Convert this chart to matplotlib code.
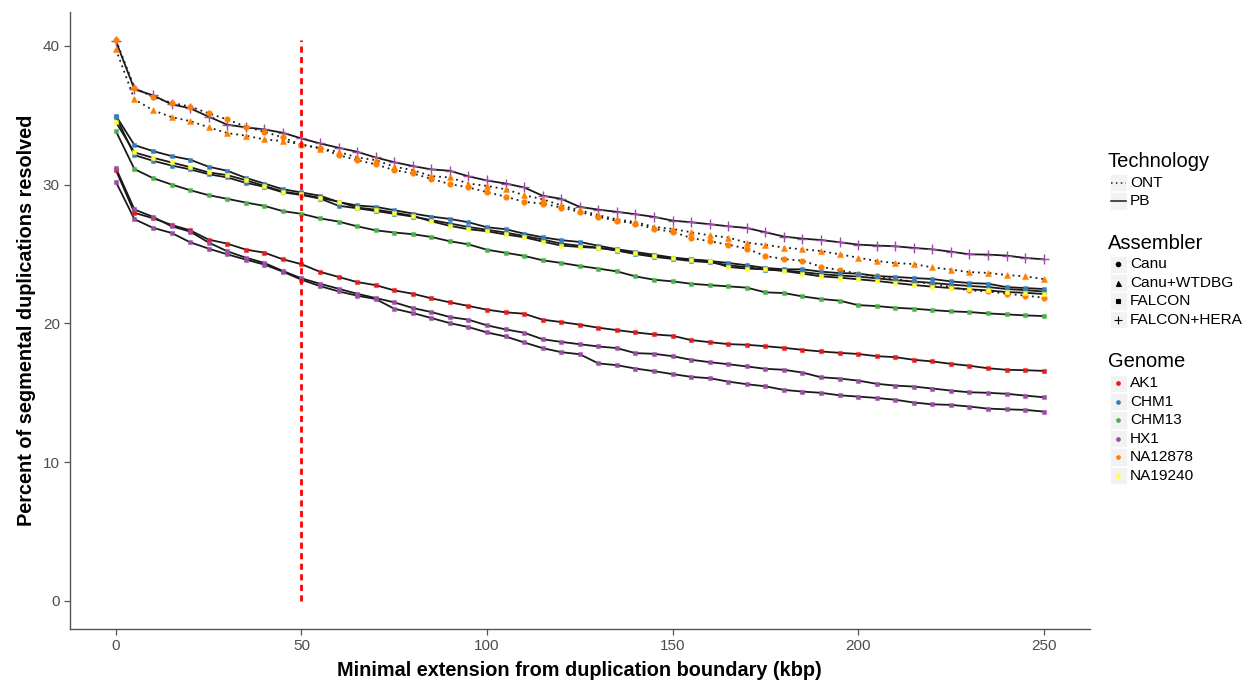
import matplotlib
matplotlib.use("Agg")
import matplotlib.pyplot as plt
from matplotlib.lines import Line2D
from matplotlib.patches import Rectangle
import numpy as np

plt.rcParams['font.family'] = ['Liberation Sans', 'DejaVu Sans']

x_kbp = list(range(0, 251, 5))

hx1_falcon_hera_pb = [40.35, 36.87, 36.44, 35.79, 35.5, 34.9, 34.32, 34.13, 33.98, 33.74,
                      33.33, 32.97, 32.66, 32.37, 31.96, 31.62, 31.34, 31.10, 31.0, 30.6,
                      30.3, 30.08, 29.8, 29.2, 28.98, 28.4, 28.2, 28.04, 27.87, 27.68,
                      27.41, 27.29, 27.15, 27.0, 26.88, 26.57, 26.26, 26.11, 26.01, 25.85,
                      25.68, 25.61, 25.56, 25.44, 25.34, 25.17, 24.98, 24.96, 24.89, 24.72, 24.62]
na12878_wtdbg_ont = [39.76, 36.15, 35.36, 34.87, 34.58, 34.13, 33.72, 33.53, 33.26, 33.14,
                     32.9, 32.6, 32.37, 31.96, 31.77, 31.29, 31.05, 30.61, 30.52, 30.08,
                     29.91, 29.67, 29.24, 28.95, 28.5, 28.16, 27.8, 27.5, 27.3, 26.96,
                     26.81, 26.57, 26.35, 26.19, 25.82, 25.66, 25.47, 25.34, 25.22, 24.98,
                     24.74, 24.5, 24.35, 24.28, 24.04, 23.88, 23.7, 23.64, 23.49, 23.39, 23.2]
na12878_canu_ont = [40.43, 37.0, 36.3, 35.9, 35.63, 35.14, 34.7, 34.18, 33.81, 33.4,
                    32.87, 32.66, 32.13, 31.77, 31.46, 31.05, 30.81, 30.42, 30.04, 29.8,
                    29.46, 29.14, 28.76, 28.64, 28.35, 28.04, 27.68, 27.39, 27.2, 26.81,
                    26.6, 26.16, 25.92, 25.68, 25.39, 24.86, 24.64, 24.52, 24.09, 23.83,
                    23.59, 23.39, 23.2, 23.0, 22.86, 22.62, 22.38, 22.31, 22.14, 22.0, 21.86]
chm1_falcon_a = [34.97, 32.85, 32.42, 32.06, 31.8, 31.29, 31.0, 30.49, 30.08, 29.67,
                 29.44, 29.2, 28.75, 28.5, 28.4, 28.16, 27.92, 27.7, 27.53, 27.29,
                 26.93, 26.79, 26.47, 26.21, 26.0, 25.87, 25.6, 25.35, 25.15, 24.95,
                 24.75, 24.62, 24.5, 24.36, 24.19, 24.0, 23.9, 23.9, 23.73, 23.63,
                 23.59, 23.42, 23.35, 23.27, 23.2, 23.03, 22.91, 22.86, 22.62, 22.55, 22.48]
chm1_falcon_b = [34.9, 32.13, 31.72, 31.38, 31.1, 30.75, 30.52, 30.13, 29.85, 29.45,
                 29.25, 29.0, 28.48, 28.3, 28.1, 27.9, 27.7, 27.45, 27.2, 26.95,
                 26.75, 26.55, 26.3, 26.05, 25.75, 25.6, 25.46, 25.25, 25.0, 24.8,
                 24.65, 24.5, 24.4, 24.2, 24.05, 23.88, 23.82, 23.7, 23.55, 23.45,
                 23.38, 23.25, 23.12, 23.02, 22.92, 22.8, 22.7, 22.62, 22.48, 22.4, 22.3]
na19240_falcon = [34.51, 32.32, 31.94, 31.6, 31.26, 30.88, 30.69, 30.32, 29.91, 29.5,
                  29.3, 29.05, 28.77, 28.35, 28.2, 27.99, 27.75, 27.36, 27.03, 26.79,
                  26.64, 26.41, 26.21, 25.9, 25.61, 25.51, 25.44, 25.27, 25.05, 24.84,
                  24.69, 24.6, 24.5, 24.07, 23.95, 23.9, 23.78, 23.59, 23.39, 23.3,
                  23.18, 23.06, 22.91, 22.77, 22.65, 22.55, 22.46, 22.38, 22.26, 22.21, 22.12]
chm13_falcon = [33.86, 31.12, 30.47, 30.01, 29.6, 29.24, 28.98, 28.71, 28.47, 28.09,
                27.9, 27.57, 27.34, 27.0, 26.71, 26.55, 26.43, 26.23, 25.92, 25.7,
                25.31, 25.09, 24.87, 24.55, 24.36, 24.14, 23.95, 23.75, 23.39, 23.15,
                23.03, 22.86, 22.76, 22.67, 22.58, 22.24, 22.19, 21.95, 21.76, 21.64,
                21.32, 21.25, 21.13, 21.06, 20.96, 20.87, 20.82, 20.72, 20.65, 20.58, 20.53]
ak1_falcon = [31.05, 27.97, 27.58, 27.1, 26.71, 26.04, 25.75, 25.32, 25.1, 24.62,
              24.27, 23.72, 23.35, 22.98, 22.76, 22.38, 22.14, 21.81, 21.52, 21.26,
              20.99, 20.8, 20.7, 20.27, 20.1, 19.91, 19.69, 19.52, 19.35, 19.21,
              19.11, 18.8, 18.65, 18.51, 18.46, 18.36, 18.24, 18.1, 17.98, 17.88,
              17.8, 17.64, 17.57, 17.38, 17.26, 17.09, 16.95, 16.77, 16.66, 16.63, 16.58]
hx1_falcon_a = [31.2, 28.21, 27.68, 27.0, 26.62, 25.83, 25.2, 24.74, 24.36, 23.78,
                23.25, 22.86, 22.5, 22.14, 21.83, 21.52, 21.11, 20.82, 20.46, 20.27,
                19.86, 19.57, 19.33, 18.86, 18.67, 18.5, 18.34, 18.22, 17.86, 17.81,
                17.64, 17.38, 17.21, 17.06, 16.9, 16.73, 16.66, 16.46, 16.12, 16.03,
                15.88, 15.65, 15.52, 15.45, 15.31, 15.16, 15.04, 15.0, 14.93, 14.8, 14.68]
hx1_falcon_b = [30.2, 27.51, 26.89, 26.52, 25.85, 25.39, 24.98, 24.6, 24.24, 23.73,
                23.15, 22.69, 22.31, 22.0, 21.76, 21.06, 20.75, 20.39, 20.02, 19.74,
                19.35, 19.06, 18.63, 18.22, 17.93, 17.78, 17.12, 16.99, 16.75, 16.56,
                16.35, 16.15, 16.05, 15.81, 15.62, 15.47, 15.21, 15.09, 15.0, 14.82,
                14.73, 14.63, 14.5, 14.3, 14.17, 14.13, 14.01, 13.86, 13.81, 13.77, 13.65]

genomes = ['AK1', 'CHM1', 'CHM13', 'HX1', 'NA12878', 'NA19240']
genome_colors = ['#E41A1C', '#377EB8', '#4DAF4A', '#984EA3', '#FF7F00', '#FFFF33']
assemblers = ['Canu', 'Canu+WTDBG', 'FALCON', 'FALCON+HERA']
assembler_markers = ['o', '^', 's', '+']
technologies = ['ONT', 'PB']
tech_styles = [(0, (1, 2.2)), '-']
cutoff_kbp = 50

# (values, genome, assembler, technology)
series = [
    (hx1_falcon_hera_pb, 'HX1', 'FALCON+HERA', 'PB'),
    (na12878_wtdbg_ont, 'NA12878', 'Canu+WTDBG', 'ONT'),
    (na12878_canu_ont, 'NA12878', 'Canu', 'ONT'),
    (chm1_falcon_a, 'CHM1', 'FALCON', 'PB'),
    (chm1_falcon_b, 'CHM1', 'FALCON', 'PB'),
    (na19240_falcon, 'NA19240', 'FALCON', 'PB'),
    (chm13_falcon, 'CHM13', 'FALCON', 'PB'),
    (ak1_falcon, 'AK1', 'FALCON', 'PB'),
    (hx1_falcon_a, 'HX1', 'FALCON', 'PB'),
    (hx1_falcon_b, 'HX1', 'FALCON', 'PB'),
]

W, H = 1246, 681
fig = plt.figure(figsize=(W / 100, H / 100), dpi=100)
ax = fig.add_axes([69.5 / W, 1 - 629 / H, (1090 - 69.5) / W, (629 - 12.3) / H])

msize = {'o': 4.0, '^': 4.4, 's': 3.5, '+': 6.5}
for vals, g, a, t in series:
    ls = tech_styles[technologies.index(t)]
    ax.plot(x_kbp, vals, color='#1a1a1a', lw=1.3, ls=ls, zorder=2)
for vals, g, a, t in series:
    col = genome_colors[genomes.index(g)]
    mk = assembler_markers[assemblers.index(a)]
    if mk == '+':
        ax.plot(x_kbp, vals, ls='none', marker=mk, ms=msize[mk], mew=1.0,
                color=col, zorder=3)
    else:
        ax.plot(x_kbp, vals, ls='none', marker=mk, ms=msize[mk], mew=0.9,
                mfc=col, mec=matplotlib.colors.to_rgba(col, 0.45), zorder=3)

ymax = max(max(v) for v, *_ in series)
ax.plot([cutoff_kbp, cutoff_kbp], [0, ymax], color='#FF0000', lw=2.0,
        ls=(0, (2.2, 1.6)), zorder=4)

ax.set_xlim(-12.5, 262.5)
ax.set_ylim(-2.02, 42.42)
ax.set_xticks([0, 50, 100, 150, 200, 250])
ax.set_yticks([0, 10, 20, 30, 40])
for s in ['top', 'right']:
    ax.spines[s].set_visible(False)
for s in ['left', 'bottom']:
    ax.spines[s].set_color('#555555')
    ax.spines[s].set_linewidth(1.0)
ax.tick_params(colors='#555555', labelcolor='#4D4D4D', labelsize=11,
               length=4, width=0.9, pad=3)
ax.set_xlabel('Minimal extension from duplication boundary (kbp)',
              fontsize=14.3, fontweight='bold', labelpad=6)
ax.set_ylabel('Percent of segmental duplications resolved',
              fontsize=14.3, fontweight='bold', labelpad=5)

# Legend drawn manually in figure pixel coordinates
def fx(px):
    return px / W

def fy(py):
    return 1 - py / H

key_x0, key_w, key_h = 1109.5, 17.5, 17.5
text_x = 1130

def key_box(cy):
    fig.patches.append(Rectangle((fx(key_x0), fy(cy + key_h / 2)), key_w / W, key_h / H,
                                 transform=fig.transFigure, facecolor='#F2F2F2',
                                 edgecolor='white', lw=0.6, zorder=1))

def title(text, cy):
    fig.text(fx(1108), fy(cy), text, fontsize=14.5, va='center', ha='left', color='black')

def label(text, cy):
    fig.text(fx(text_x), fy(cy), text, fontsize=11.1, va='center', ha='left', color='black')

title('Technology', 161.5)
for t, cy in zip(technologies, [182.7, 201.2]):
    key_box(cy)
    ls = tech_styles[technologies.index(t)]
    fig.lines.append(Line2D([fx(key_x0 + 1), fx(key_x0 + key_w - 1)], [fy(cy), fy(cy)],
                            transform=fig.transFigure, color='#1a1a1a', lw=1.1, ls=ls))
    label(t, cy)

title('Assembler', 243.5)
for a, cy in zip(assemblers, [264.3, 282.7, 301.2, 319.6]):
    key_box(cy)
    mk = assembler_markers[assemblers.index(a)]
    fig.lines.append(Line2D([fx(key_x0 + key_w / 2)], [fy(cy)], transform=fig.transFigure,
                            ls='none', marker=mk, ms={'o': 3.2, '^': 3.6, 's': 3.0, '+': 5.5}[mk],
                            color='black', mew=0.8))
    label(a, cy)

title('Genome', 361.5)
for g, cy in zip(genomes, [383.3, 401.7, 420.2, 438.6, 457.0, 475.5]):
    key_box(cy)
    col = genome_colors[genomes.index(g)]
    fig.lines.append(Line2D([fx(key_x0 + key_w / 2)], [fy(cy)], transform=fig.transFigure,
                            ls='none', marker='o', ms=3.4, color=col, mew=0))
    label(g, cy)

fig.savefig('out.png', dpi=100)
